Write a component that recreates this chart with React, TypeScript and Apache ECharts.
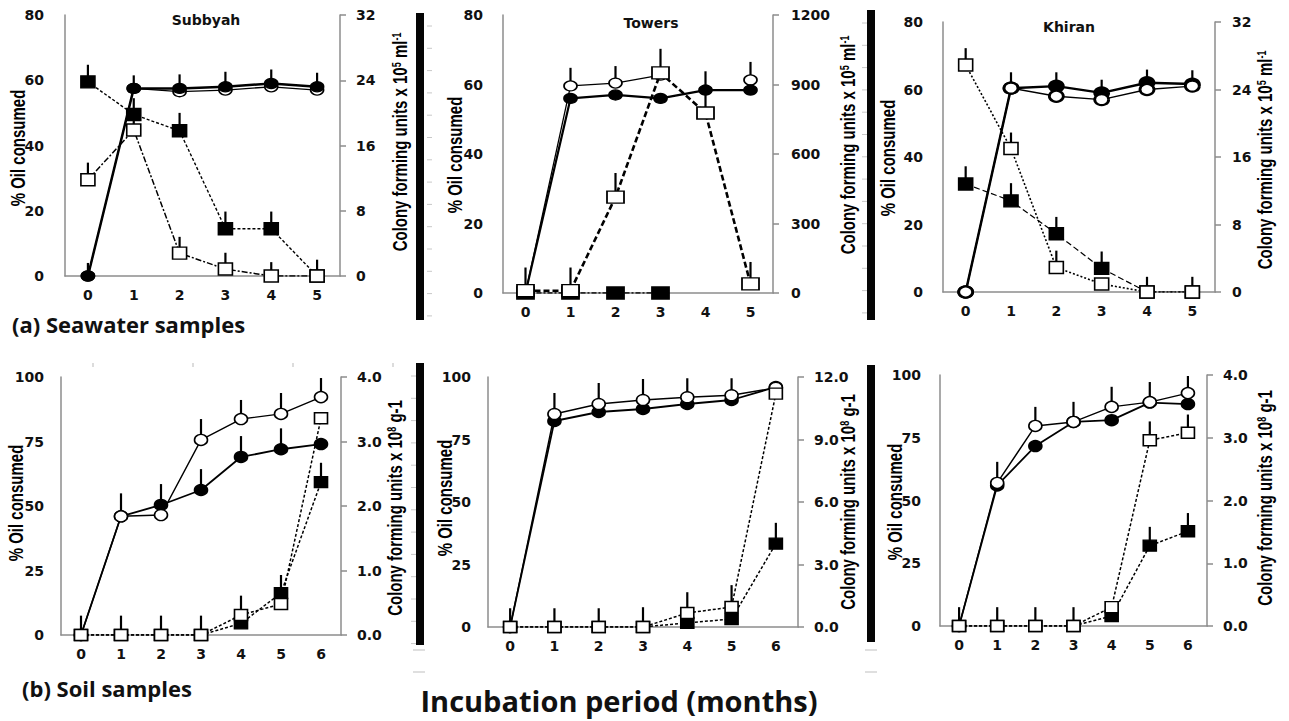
import React, { useEffect, useRef } from 'react';
import * as echarts from 'echarts';

// ---------------- data ----------------
const monthsSea = ['0', '1', '2', '3', '4', '5'];
const monthsSoil = ['0', '1', '2', '3', '4', '5', '6'];

// (a) Seawater – Subbyah  (oil % on left axis, CFU x10^5 ml-1 on right axis)
const subSeaOilFilled = [0, 57.5, 57.5, 58, 59, 58];
const subSeaOilFilledErr = [4, 4, 4.3, 4.6, 4.3, 4.3];
const subSeaOilOpen = [0, 57.5, 56.5, 57, 58, 57];
const subSeaOilOpenErr = [0, 0, 0, 0, 0, 0];
const subSeaCfuFilled = [23.8, 19.8, 17.8, 5.8, 5.8, 0];
const subSeaCfuFilledErr = [2.1, 2, 2.2, 2.1, 2.1, 2];
const subSeaCfuOpen = [11.8, 17.9, 2.8, 0.85, 0, 0];
const subSeaCfuOpenErr = [2.1, 2, 2, 2, 1.7, 0];

// (a) Seawater – Towers
const towSeaOilFilled = [0, 56, 57, 56, 58.4, 58.4];
const towSeaOilFilledErr = [0, 0, 0, 0, 0, 0];
const towSeaOilOpen = [0, 59.6, 60.4, 62.7, null, 61.3];
const towSeaOilOpenErr = [0, 5.2, 4.9, 0, 0, 5.2];
const towSeaCfuFilled = [0, 0, 0, 0, null, null];
const towSeaCfuFilledErr = [0, 0, 0, 0, 0, 0];
const towSeaCfuOpen = [10, 10, 414, 950, 777, 39];
const towSeaCfuOpenErr = [100, 100, 104, 104, 180, 95];

// (a) Seawater – Khiran
const khiSeaOilFilled = [0, 60.4, 61, 59, 62, 61.6];
const khiSeaOilFilledErr = [0, 4.7, 4.1, 3.9, 3.9, 4.1];
const khiSeaOilOpen = [0, 60.4, 58, 57, 60, 61];
const khiSeaOilOpenErr = [0, 0, 0, 0, 0, 0];
const khiSeaCfuFilled = [12.8, 10.8, 6.9, 2.8, 0, 0];
const khiSeaCfuFilledErr = [2.1, 2.1, 2, 2, 0, 0];
const khiSeaCfuOpen = [26.9, 17, 2.9, 0.95, 0, 0];
const khiSeaCfuOpenErr = [2, 1.9, 2, 0, 1.8, 1.8];

// (b) Soil – Subbyah (CFU x10^8 g-1)
const subSoilOilFilled = [0, 46, 50.4, 56.2, 69, 72, 74];
const subSoilOilFilledErr = [0, 0, 8.1, 8.1, 8.1, 8.1, 0];
const subSoilOilOpen = [0, 46, 46.5, 75.6, 83.7, 85.7, 92.2];
const subSoilOilOpenErr = [0, 8.9, 0, 8.1, 7.4, 8.1, 7.4];
const subSoilCfuFilled = [0, 0, 0, 0, 0.18, 0.65, 2.37];
const subSoilCfuFilledErr = [0, 0, 0, 0, 0, 0.28, 0.3];
const subSoilCfuOpen = [0, 0, 0, 0, 0.31, 0.48, 3.36];
const subSoilCfuOpenErr = [0.3, 0.3, 0.3, 0.3, 0.3, 0, 0];

// (b) Soil – Towers
const towSoilOilFilled = [0, 82.4, 86, 87.2, 89.2, 90.8, 96];
const towSoilOilFilledErr = [0, 0, 0, 0, 0, 0, 0];
const towSoilOilOpen = [0, 85.2, 89.2, 90.8, 91.9, 92.7, 95.7];
const towSoilOilOpenErr = [0, 8.4, 8.4, 8.4, 7.6, 6.8, 0];
const towSoilCfuFilled = [0, 0, 0, 0, 0.2, 0.38, 4.0];
const towSoilCfuFilledErr = [0, 0, 0, 0, 0, 0, 1.0];
const towSoilCfuOpen = [0, 0, 0, 0, 0.67, 0.96, 11.2];
const towSoilCfuOpenErr = [0.9, 0.9, 0.9, 0.95, 1.0, 1.05, 0];

// (b) Soil – Khiran
const khiSoilOilFilled = [0, 56, 71.7, 81.3, 82, 89, 88.4];
const khiSoilOilFilledErr = [0, 0, 0, 0, 0, 0, 0];
const khiSoilOilOpen = [0, 57, 79.7, 81.3, 87.3, 89.2, 92.8];
const khiSoilOilOpenErr = [0, 8.4, 7.6, 8, 8, 8, 6.8];
const khiSoilCfuFilled = [0, 0, 0, 0, 0.16, 1.28, 1.51];
const khiSoilCfuFilledErr = [0, 0, 0, 0, 0, 0.3, 0.29];
const khiSoilCfuOpen = [0, 0, 0, 0, 0.3, 2.96, 3.08];
const khiSoilCfuOpenErr = [0.3, 0.3, 0.3, 0.3, 0, 0.3, 0.29];

const panelTitles = ['Subbyah', 'Towers', 'Khiran'];
const leftName = '% Oil consumed';
const rightNameSea = 'Colony forming units x 10{sup|5} ml{sup|-1}';
const rightNameSoil = 'Colony forming units x 10{sup|8} g-1';
const xAxisTitle = 'Incubation period (months)';
const rowLabels = ['(a) Seawater samples', '(b) Soil samples'];

// ---------------- styling ----------------
const TICK_FONT = '"DejaVu Sans", Verdana, sans-serif';
const NAME_FONT = '"Liberation Sans", Arial, sans-serif';
const BIG_FONT = '"Open Sans", "Noto Sans", sans-serif';
const GRAY = '#8d8d8d';
const TICK_SIZE = 14;

type Panel = {
  grid: { left: number; top: number; width: number; height: number };
  cats: string[];
  leftMax: number; leftInterval: number;
  rightMax: number; rightInterval: number; rightDecimals: number;
  rightName: string;
  leftNamePos: number[]; rightNamePos: number[];
  leftMargin: number; rightMargin: number;
  oilFilled: (number | null)[]; oilFilledErr: number[];
  oilOpen: (number | null)[]; oilOpenErr: number[];
  cfuFilled: (number | null)[]; cfuFilledErr: number[];
  cfuOpen: (number | null)[]; cfuOpenErr: number[];
  circleSize: number[]; squareSize: number[]; circleBorder: number;
  openOnTop: boolean;
  filledLine: any; openLine: any; sqFilledLine: any; sqOpenLine: any;
};

const sea = { leftMax: 80, leftInterval: 20, rightDecimals: 0, rightName: rightNameSea };
const soil = { leftMax: 100, leftInterval: 25, rightDecimals: 1, rightName: rightNameSoil };

const panels: Panel[] = [
  {
    ...sea, grid: { left: 65, top: 15, width: 275, height: 261 }, cats: monthsSea,
    rightMax: 32, rightInterval: 8, leftNamePos: [18, 148], rightNamePos: [400, 142], leftMargin: 21, rightMargin: 16,
    oilFilled: subSeaOilFilled, oilFilledErr: subSeaOilFilledErr,
    oilOpen: subSeaOilOpen, oilOpenErr: subSeaOilOpenErr,
    cfuFilled: subSeaCfuFilled, cfuFilledErr: subSeaCfuFilledErr,
    cfuOpen: subSeaCfuOpen, cfuOpenErr: subSeaCfuOpenErr,
    circleSize: [13, 10], squareSize: [14, 12], circleBorder: 1.5, openOnTop: false,
    filledLine: { width: 2.5, type: 'solid' }, openLine: { width: 1.3, type: 'solid' },
    sqFilledLine: { width: 1.4, type: [3, 2] }, sqOpenLine: { width: 1.5, type: [6, 2, 2, 2] },
  },
  {
    ...sea, grid: { left: 503, top: 15, width: 270, height: 278 }, cats: monthsSea,
    rightMax: 1200, rightInterval: 300, leftNamePos: [455, 155], rightNamePos: [848, 145], leftMargin: 20, rightMargin: 18,
    oilFilled: towSeaOilFilled, oilFilledErr: towSeaOilFilledErr,
    oilOpen: towSeaOilOpen, oilOpenErr: towSeaOilOpenErr,
    cfuFilled: towSeaCfuFilled, cfuFilledErr: towSeaCfuFilledErr,
    cfuOpen: towSeaCfuOpen, cfuOpenErr: towSeaCfuOpenErr,
    circleSize: [13, 10], squareSize: [17, 12], circleBorder: 1.5, openOnTop: false,
    filledLine: { width: 2.2, type: 'solid' }, openLine: { width: 1.3, type: 'solid' },
    sqFilledLine: { width: 1.4, type: [5, 2, 2, 2] }, sqOpenLine: { width: 2.6, type: [6, 3] },
  },
  {
    ...sea, grid: { left: 943, top: 22, width: 272, height: 270 }, cats: monthsSea,
    rightMax: 32, rightInterval: 8, leftNamePos: [888, 158], rightNamePos: [1265, 160], leftMargin: 20, rightMargin: 17,
    oilFilled: khiSeaOilFilled, oilFilledErr: khiSeaOilFilledErr,
    oilOpen: khiSeaOilOpen, oilOpenErr: khiSeaOilOpenErr,
    cfuFilled: khiSeaCfuFilled, cfuFilledErr: khiSeaCfuFilledErr,
    cfuOpen: khiSeaCfuOpen, cfuOpenErr: khiSeaCfuOpenErr,
    circleSize: [14, 11], squareSize: [14, 12], circleBorder: 2.5, openOnTop: true,
    filledLine: { width: 2.5, type: 'solid' }, openLine: { width: 1.5, type: 'solid' },
    sqFilledLine: { width: 1.2, type: [6, 3] }, sqOpenLine: { width: 1.6, type: [2, 2] },
  },
  {
    ...soil, grid: { left: 61, top: 377, width: 280, height: 258 }, cats: monthsSoil,
    rightMax: 4, rightInterval: 1, leftNamePos: [16, 503], rightNamePos: [395, 508], leftMargin: 17, rightMargin: 16,
    oilFilled: subSoilOilFilled, oilFilledErr: subSoilOilFilledErr,
    oilOpen: subSoilOilOpen, oilOpenErr: subSoilOilOpenErr,
    cfuFilled: subSoilCfuFilled, cfuFilledErr: subSoilCfuFilledErr,
    cfuOpen: subSoilCfuOpen, cfuOpenErr: subSoilCfuOpenErr,
    circleSize: [13, 11], squareSize: [13, 11], circleBorder: 1.5, openOnTop: true,
    filledLine: { width: 1.8, type: 'solid' }, openLine: { width: 1.4, type: 'solid' },
    sqFilledLine: { width: 1.5, type: [3, 2] }, sqOpenLine: { width: 1.5, type: [3, 2] },
  },
  {
    ...soil, grid: { left: 488, top: 377, width: 310, height: 250 }, cats: monthsSoil,
    rightMax: 12, rightInterval: 3, leftNamePos: [445, 498], rightNamePos: [848, 502], leftMargin: 17, rightMargin: 16,
    oilFilled: towSoilOilFilled, oilFilledErr: towSoilOilFilledErr,
    oilOpen: towSoilOilOpen, oilOpenErr: towSoilOilOpenErr,
    cfuFilled: towSoilCfuFilled, cfuFilledErr: towSoilCfuFilledErr,
    cfuOpen: towSoilCfuOpen, cfuOpenErr: towSoilCfuOpenErr,
    circleSize: [13, 11], squareSize: [13, 11], circleBorder: 1.5, openOnTop: true,
    filledLine: { width: 1.8, type: 'solid' }, openLine: { width: 1.4, type: 'solid' },
    sqFilledLine: { width: 1.5, type: [3, 2] }, sqOpenLine: { width: 1.5, type: [3, 2] },
  },
  {
    ...soil, grid: { left: 940, top: 375, width: 267, height: 251 }, cats: monthsSoil,
    rightMax: 4, rightInterval: 1, leftNamePos: [895, 502], rightNamePos: [1265, 498], leftMargin: 19, rightMargin: 16,
    oilFilled: khiSoilOilFilled, oilFilledErr: khiSoilOilFilledErr,
    oilOpen: khiSoilOilOpen, oilOpenErr: khiSoilOilOpenErr,
    cfuFilled: khiSoilCfuFilled, cfuFilledErr: khiSoilCfuFilledErr,
    cfuOpen: khiSoilCfuOpen, cfuOpenErr: khiSoilCfuOpenErr,
    circleSize: [13, 11], squareSize: [13, 11], circleBorder: 1.5, openOnTop: true,
    filledLine: { width: 1.8, type: 'solid' }, openLine: { width: 1.4, type: 'solid' },
    sqFilledLine: { width: 1.5, type: [3, 2] }, sqOpenLine: { width: 1.5, type: [3, 2] },
  },
];

function errSeries(values: (number | null)[], errs: number[], xi: number, yi: number) {
  const data: number[][] = [];
  values.forEach((v, i) => {
    if (v != null && errs[i]) data.push([i, v, errs[i]]);
  });
  return {
    type: 'custom', xAxisIndex: xi, yAxisIndex: yi, z: 1, silent: true,
    data, encode: { x: 0, y: 1 },
    renderItem: (_p: any, api: any) => {
      const x = api.value(0), y = api.value(1), e = api.value(2);
      const a = api.coord([x, y]);
      const b = api.coord([x, y + e]);
      return {
        type: 'line',
        shape: { x1: a[0], y1: a[1], x2: b[0], y2: b[1] },
        style: { stroke: '#000', lineWidth: 2.2 },
      };
    },
  };
}

function lineSeries(values: (number | null)[], xi: number, yi: number, symbol: string, size: number[], fill: string, bw: number, ls: any, z: number) {
  return {
    type: 'line', xAxisIndex: xi, yAxisIndex: yi, data: values,
    symbol, symbolSize: size, showSymbol: true, z, connectNulls: false,
    itemStyle: { color: fill, borderColor: '#000', borderWidth: bw },
    lineStyle: { color: '#000', width: ls.width, type: ls.type },
    emphasis: { disabled: true },
  };
}

function nameText(text: string, pos: number[]) {
  return {
    type: 'text', x: pos[0], y: pos[1], rotation: Math.PI / 2, scaleX: 0.75, z: 10,
    style: {
      text, fontFamily: NAME_FONT, fontWeight: 'bold', fontSize: 20, fill: '#000',
      textAlign: 'center', textVerticalAlign: 'middle',
      rich: { sup: { fontFamily: NAME_FONT, fontWeight: 'bold', fontSize: 12, verticalAlign: 'top', fill: '#000' } },
    },
  };
}

function buildOption() {
  const grid: any[] = [];
  const xAxis: any[] = [];
  const yAxis: any[] = [];
  const series: any[] = [];
  const graphic: any[] = [];
  panels.forEach((p, k) => {
    grid.push({ ...p.grid, outerBoundsMode: 'none', containLabel: false });
    xAxis.push({
      type: 'category', gridIndex: k, data: p.cats, boundaryGap: true,
      axisLine: { lineStyle: { color: GRAY, width: 1.5 } },
      axisTick: { show: false },
      axisLabel: { margin: 12, color: '#111', fontFamily: TICK_FONT, fontWeight: 'bold', fontSize: TICK_SIZE },
    });
    const yl = yAxis.length;
    yAxis.push({
      type: 'value', gridIndex: k, position: 'left', min: 0, max: p.leftMax, interval: p.leftInterval,
      axisLine: { show: true, lineStyle: { color: GRAY, width: 1.5 } },
      axisTick: { show: false }, splitLine: { show: false },
      axisLabel: { margin: p.leftMargin, color: '#111', fontFamily: TICK_FONT, fontWeight: 'bold', fontSize: TICK_SIZE },
    });
    yAxis.push({
      type: 'value', gridIndex: k, position: 'right', min: 0, max: p.rightMax, interval: p.rightInterval,
      axisLine: { show: true, lineStyle: { color: GRAY, width: 1.5 } },
      axisTick: { show: true, length: 6, lineStyle: { color: GRAY, width: 1.5 } },
      splitLine: { show: false },
      axisLabel: {
        margin: p.rightMargin, color: '#111', fontFamily: TICK_FONT, fontWeight: 'bold', fontSize: TICK_SIZE,
        formatter: (v: number) => v.toFixed(p.rightDecimals),
      },
    });
    const yr = yl + 1;
    series.push(errSeries(p.oilFilled, p.oilFilledErr, k, yl));
    series.push(errSeries(p.oilOpen, p.oilOpenErr, k, yl));
    series.push(errSeries(p.cfuFilled, p.cfuFilledErr, k, yr));
    series.push(errSeries(p.cfuOpen, p.cfuOpenErr, k, yr));
    const zf = p.openOnTop ? 3 : 4;
    const zo = p.openOnTop ? 4 : 3;
    series.push(lineSeries(p.oilFilled, k, yl, 'circle', p.circleSize, '#000', p.circleBorder, p.filledLine, zf));
    series.push(lineSeries(p.oilOpen, k, yl, 'circle', p.circleSize, '#fff', p.circleBorder, p.openLine, zo));
    series.push(lineSeries(p.cfuFilled, k, yr, 'rect', p.squareSize, '#000', 1.5, p.sqFilledLine, 5));
    series.push(lineSeries(p.cfuOpen, k, yr, 'rect', p.squareSize, '#fff', 1.5, p.sqOpenLine, 6));
    graphic.push(nameText(leftName, p.leftNamePos));
    graphic.push(nameText(p.rightName, p.rightNamePos));
  });

  // thick dark dividers (scanned axis remnants)
  const bars = [
    { x: 416, y: 13, h: 307, tickSide: 1 },
    { x: 867, y: 10, h: 310, tickSide: -1 },
    { x: 416, y: 363, h: 282, tickSide: -1 },
    { x: 867, y: 365, h: 277, tickSide: 0 },
  ];
  bars.forEach((b) => {
    graphic.push({ type: 'rect', shape: { x: b.x, y: b.y, width: 8, height: b.h }, style: { fill: '#050505' }, z: 10 });
    if (b.tickSide !== 0) {
      for (let ty = b.y + 13; ty < b.y + b.h; ty += 22.3) {
        const x1 = b.tickSide > 0 ? b.x + 11 : b.x - 5;
        graphic.push({ type: 'line', shape: { x1, y1: ty, x2: x1 + 5, y2: ty }, style: { stroke: '#c8c8c8', lineWidth: 1 }, z: 10 });
      }
    }
  });
  [[413, 650], [413, 672], [865, 650], [865, 672]].forEach(([x, y]) => {
    graphic.push({ type: 'line', shape: { x1: x, y1: y, x2: x + 12, y2: y }, style: { stroke: '#d4d4d4', lineWidth: 1.5 }, z: 10 });
  });
  [93, 193, 293, 393].forEach((x) => {
    graphic.push({ type: 'line', shape: { x1: x, y1: 363, x2: x, y2: 367 }, style: { stroke: '#d0d0d0', lineWidth: 1.5 }, z: 10 });
  });
  const titlePos = [[206, 20], [651, 23], [1069, 27]];
  panelTitles.forEach((t, i) => {
    graphic.push({
      type: 'text', x: titlePos[i][0], y: titlePos[i][1], z: 10,
      style: { text: t, fontFamily: TICK_FONT, fontWeight: 'bold', fontSize: 14, fill: '#111', textAlign: 'center', textVerticalAlign: 'middle' },
    });
  });
  graphic.push({
    type: 'text', x: 12, y: 324, z: 10,
    style: { text: rowLabels[0], fontFamily: BIG_FONT, fontWeight: 'bold', fontSize: 22, fill: '#111', textAlign: 'left', textVerticalAlign: 'middle' },
  });
  graphic.push({
    type: 'text', x: 22, y: 688, z: 10,
    style: { text: rowLabels[1], fontFamily: BIG_FONT, fontWeight: 'bold', fontSize: 22, fill: '#111', textAlign: 'left', textVerticalAlign: 'middle' },
  });
  graphic.push({
    type: 'text', x: 619, y: 700, z: 10,
    style: { text: xAxisTitle, fontFamily: BIG_FONT, fontWeight: 'bold', fontSize: 29, fill: '#111', textAlign: 'center', textVerticalAlign: 'middle' },
  });

  return {
    animation: false,
    backgroundColor: '#ffffff',
    grid, xAxis, yAxis, series, graphic,
  };
}

export default function App() {
  const ref = useRef<HTMLDivElement>(null);
  useEffect(() => {
    if (!ref.current) return;
    const chart = echarts.init(ref.current, undefined, { renderer: 'svg' });
    chart.setOption(buildOption() as any);
    return () => chart.dispose();
  }, []);
  return (
    <div
      ref={ref}
      style={{ position: 'absolute', left: 0, top: 0, width: 1289, height: 721, background: '#fff' }}
    />
  );
}
